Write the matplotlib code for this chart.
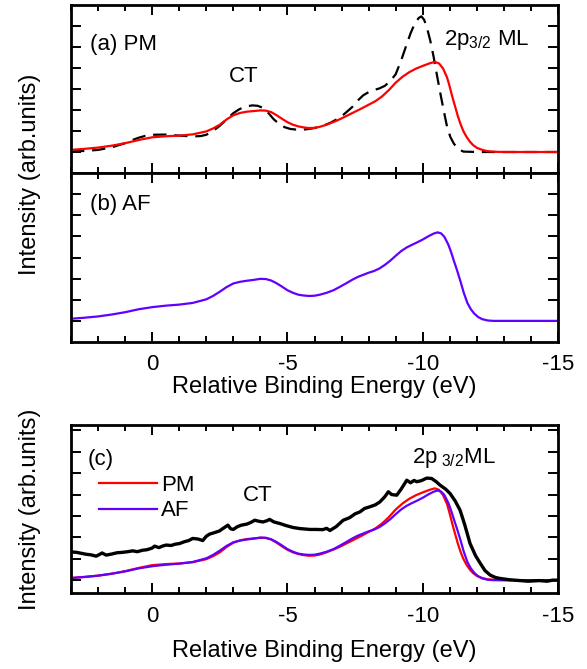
import numpy as np
import matplotlib
matplotlib.use("Agg")
import matplotlib.pyplot as plt
from matplotlib.ticker import MultipleLocator

plt.rcParams['font.family'] = ['Liberation Sans', 'DejaVu Sans']
plt.rcParams['mathtext.fontset'] = 'custom'
plt.rcParams['mathtext.rm'] = 'Liberation Sans'
plt.rcParams['mathtext.it'] = 'Liberation Sans:italic'
plt.rcParams['axes.unicode_minus'] = False

# PM (red) calculated spectrum
e_pm = [3.0, 2.5, 2.0, 1.5, 1.0, 0.5, 0.0, -0.5, -1.0, -1.5, -2.0, -2.25, -2.5, -2.75,
        -3.0, -3.25, -3.5, -3.75, -4.0, -4.2, -4.4, -4.6, -4.8, -5.0, -5.2, -5.4, -5.6,
        -5.8, -6.0, -6.2, -6.4, -6.6, -6.8, -7.0, -7.25, -7.5, -7.75, -8.0, -8.25, -8.5,
        -8.75, -9.0, -9.25, -9.5, -9.75, -10.0, -10.25, -10.45, -10.6, -10.75, -10.9,
        -11.0, -11.1, -11.2, -11.3, -11.4, -11.5, -11.62, -11.75, -11.87, -12.0, -12.2,
        -12.4, -12.7, -13.0, -15.0]
i_pm = [0.10, 0.15, 0.21, 0.30, 0.42, 0.57, 0.70, 0.75, 0.78, 0.84, 0.98, 1.12, 1.30, 1.55,
        1.75, 1.86, 1.92, 1.95, 1.98, 1.97, 1.90, 1.75, 1.58, 1.42, 1.30, 1.22, 1.17,
        1.14, 1.15, 1.20, 1.28, 1.38, 1.48, 1.60, 1.76, 1.92, 2.08, 2.25, 2.42, 2.65,
        2.95, 3.30, 3.58, 3.80, 3.97, 4.10, 4.22, 4.29, 4.22, 3.98, 3.55,
        3.10, 2.60, 2.15, 1.70, 1.32, 1.00, 0.72, 0.48, 0.32, 0.20, 0.10,
        0.04, 0.01, 0.0, 0.0]

# dashed reference spectrum in (a)
e_ref = [3.0, 2.5, 2.0, 1.5, 1.0, 0.75, 0.5, 0.25, 0.0, -0.5, -1.0, -1.5, -1.8, -2.0,
         -2.25, -2.5, -2.75, -3.0, -3.2, -3.4, -3.7, -3.9, -4.1, -4.3, -4.5, -4.7, -4.9,
         -5.1, -5.3, -5.5, -5.7, -5.95, -6.2, -6.4, -6.6, -6.8, -7.0, -7.2, -7.4, -7.6,
         -7.8, -8.0, -8.2, -8.4, -8.6, -8.8, -9.0, -9.2, -9.4, -9.55, -9.7, -9.85, -9.95,
         -10.05, -10.15, -10.28, -10.4, -10.52, -10.65, -10.78, -10.9, -11.02, -11.15,
         -11.3, -11.5, -12.0, -15.0]
i_ref = [0.03, 0.05, 0.10, 0.22, 0.42, 0.56, 0.68, 0.77, 0.82, 0.83, 0.78, 0.74, 0.76, 0.82,
         1.00, 1.25, 1.55, 1.85, 2.02, 2.15, 2.22, 2.20, 2.10, 1.85, 1.55, 1.33, 1.18,
         1.10, 1.07, 1.06, 1.08, 1.13, 1.20, 1.29, 1.40, 1.54, 1.70, 1.92, 2.15, 2.45,
         2.70, 2.85, 2.95, 3.03, 3.15, 3.38, 3.70, 4.35, 5.10, 5.65, 6.10, 6.38, 6.46,
         6.30, 5.95, 5.30, 4.55, 3.70, 2.80, 1.95, 1.20, 0.72, 0.40,
         0.15, 0.02, 0.0, 0.0]

# AF (purple) calculated spectrum
e_af = [3.0, 2.5, 2.0, 1.5, 1.0, 0.5, 0.0, -0.5, -1.0, -1.5, -2.0, -2.25, -2.5, -2.75,
        -3.0, -3.25, -3.5, -3.75, -4.0, -4.2, -4.4, -4.6, -4.8, -5.0, -5.2, -5.4, -5.6,
        -5.8, -6.0, -6.2, -6.45, -6.7, -6.95, -7.2, -7.4, -7.6, -7.8, -8.0, -8.2, -8.4,
        -8.6, -8.8, -9.0, -9.2, -9.4, -9.6, -9.8, -10.0, -10.2, -10.4, -10.55, -10.68,
        -10.8, -10.95, -11.05, -11.15, -11.28, -11.4, -11.52, -11.65, -11.78, -11.9,
        -12.05, -12.2, -12.4, -12.6, -15.0]
i_af = [0.10, 0.15, 0.21, 0.30, 0.41, 0.55, 0.65, 0.72, 0.77, 0.85, 1.02, 1.18, 1.38, 1.60,
        1.77, 1.85, 1.90, 1.94, 1.99, 1.98, 1.91, 1.78, 1.62, 1.45, 1.33, 1.24, 1.20,
        1.18, 1.19, 1.24, 1.33, 1.45, 1.62, 1.80, 1.95, 2.08, 2.18, 2.28, 2.36, 2.48,
        2.65, 2.85, 3.08, 3.30, 3.47, 3.60, 3.72, 3.85, 4.00, 4.13, 4.19, 4.14,
        3.98, 3.60, 3.25, 2.85, 2.35, 1.85, 1.32, 0.85, 0.55, 0.35,
        0.18, 0.08, 0.02, 0.0, 0.0]

# experimental spectrum (black) in (c)
e_exp = [3.0, 2.8, 2.6, 2.44, 2.25, 2.07, 1.95, 1.85, 1.7, 1.5, 1.3, 1.1, 0.9, 0.72, 0.55,
         0.35, 0.2, 0.0, -0.09, -0.25, -0.4, -0.52, -0.7, -0.85, -1.01, -1.2, -1.35, -1.5,
         -1.7, -1.87, -2.0, -2.12, -2.3, -2.49, -2.6, -2.8, -2.9, -3.0, -3.15, -3.3, -3.5,
         -3.65, -3.79, -3.95, -4.1, -4.25, -4.34, -4.5, -4.71, -4.95, -5.21, -5.46, -5.83,
         -6.07, -6.3, -6.45, -6.57, -6.8, -7.06, -7.3, -7.5, -7.68, -7.85, -8.05, -8.25,
         -8.42, -8.6, -8.73, -8.85, -9.04, -9.2, -9.41, -9.55, -9.68, -9.78, -9.95, -10.15,
         -10.33, -10.5, -10.64, -10.85, -11.01, -11.2, -11.38, -11.55, -11.75, -11.95,
         -12.13, -12.3, -12.5, -12.7, -12.86, -13.2, -13.6, -13.9, -14.3, -14.6, -14.8, -15.0]
i_exp = [1.32, 1.30, 1.25, 1.21, 1.18, 1.12, 1.20, 1.27, 1.17, 1.22, 1.28, 1.30, 1.33, 1.37, 1.33,
         1.40, 1.42, 1.50, 1.59, 1.52, 1.60, 1.64, 1.62, 1.68, 1.71, 1.80, 1.85, 1.95,
         1.92, 1.85, 2.05, 2.15, 2.22, 2.30, 2.40, 2.57, 2.40, 2.37, 2.50, 2.57, 2.62,
         2.70, 2.80, 2.75, 2.72, 2.78, 2.84, 2.72, 2.65, 2.55, 2.46, 2.41, 2.37,
         2.37, 2.36, 2.42, 2.32, 2.50, 2.80, 2.92, 3.10, 3.19, 3.35, 3.43, 3.52,
         3.66, 3.90, 4.13, 4.00, 3.97, 4.25, 4.67, 4.55, 4.66, 4.60, 4.65, 4.77,
         4.75, 4.60, 4.44, 4.25, 4.05, 3.70, 3.27, 2.60, 1.71, 1.15,
         0.78, 0.45, 0.23, 0.12, 0.08, 0.02, -0.02, -0.05, -0.02, -0.05, 0.0, 0.0]

RED = '#ff0000'
PURPLE = '#6200ff'
W, H = 587, 669

fig = plt.figure(figsize=(W / 100, H / 100), dpi=100)


def rect(left, top, right, bottom):
    return [left / W, 1 - bottom / H, (right - left) / W, (bottom - top) / H]


def style(ax, yticks, ylim, xlabels):
    ax.set_xlim(3, -15)
    ax.set_ylim(*ylim)
    ax.xaxis.set_major_locator(MultipleLocator(5))
    ax.xaxis.set_minor_locator(MultipleLocator(1))
    ax.set_yticks(yticks)
    ax.tick_params(which='both', direction='in', top=True, right=True, width=1.4,
                   labelleft=False, labelbottom=xlabels, labelsize=16, pad=9)
    ax.tick_params(which='major', length=7.5)
    ax.tick_params(which='minor', length=4.5)
    for s in ax.spines.values():
        s.set_linewidth(2)


ax_a = fig.add_axes(rect(71, 5, 558, 173))
ax_b = fig.add_axes(rect(71, 173, 558, 342))
ax_c = fig.add_axes(rect(71, 425, 558, 593))

# (a)
ax_a.plot(e_ref, i_ref, color='k', lw=1.6, dashes=(6, 3.5))
ax_a.plot(e_pm, i_pm, color=RED, lw=1.6)
style(ax_a, range(0, 7), (-1, 7), False)
ax_a.text(2.3, 5.1, '(a) PM', fontsize=16, va='center')
ax_a.text(-3.4, 3.6, 'CT', fontsize=16, va='center', ha='center')
ax_a.text(-10.8, 5.35, r'2p$_{\mathrm{3/2}}$ ML', fontsize=16, va='center')

# (b)
ax_b.plot(e_af, i_af, color=PURPLE, lw=1.6)
style(ax_b, range(0, 7), (-1, 7), True)
ax_b.text(2.3, 5.5, '(b) AF', fontsize=16, va='center')
ax_b.set_xlabel('Relative Binding Energy (eV)', fontsize=17, labelpad=4)
ax_b.xaxis.set_label_coords(0.52, -0.2)
ax_b.xaxis.label.set_va('top')

# (c)
ax_c.plot(e_pm, i_pm, color=RED, lw=1.6, label='PM')
ax_c.plot(e_af, i_af, color=PURPLE, lw=1.6, label='AF')
ax_c.plot(e_exp, i_exp, color='k', lw=2.4)
style(ax_c, range(0, 8), (-0.6, 7.25), True)
ax_c.text(2.4, 5.65, '(c)', fontsize=16, va='center')
ax_c.text(-3.9, 3.95, 'CT', fontsize=16, va='center', ha='center')
ax_c.text(-9.6, 5.7, r'2p$_{\mathrm{\ 3/2}}$ML', fontsize=16, va='center')
ax_c.legend(loc='upper left', bbox_to_anchor=(0.025, 0.795), frameon=False, fontsize=16,
            handlelength=2.6, handletextpad=0.2, labelspacing=0.2, borderpad=0.2)
ax_c.set_xlabel('Relative Binding Energy (eV)', fontsize=17)
ax_c.xaxis.set_label_coords(0.52, -0.28)
ax_c.xaxis.label.set_va('top')

fig.text(30 / W, 1 - 174 / H, 'Intensity (arb.units)', rotation=90, fontsize=17,
         ha='center', va='center')
fig.text(30 / W, 1 - 509 / H, 'Intensity (arb.units)', rotation=90, fontsize=17,
         ha='center', va='center')

fig.savefig('out.png', dpi=100)
